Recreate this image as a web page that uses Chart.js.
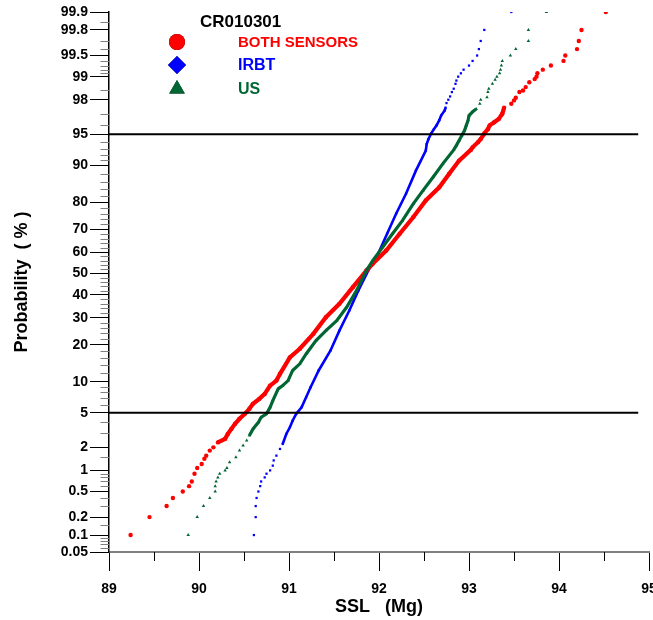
<!DOCTYPE html>
<html>
<head>
<meta charset="utf-8">
<script src="https://cdn.jsdelivr.net/npm/chart.js@4.4.1/dist/chart.umd.min.js"></script>
<style>
html,body{margin:0;padding:0;background:#ffffff;}
canvas{display:block;}
</style>
</head>
<body>
<canvas id="c" width="653" height="620"></canvas>
<script>
// ---------------- DATA ----------------
const chartTitle = 'CR010301';
const seriesNames = ['BOTH SENSORS', 'IRBT', 'US'];
const xAxisTitle = 'SSL   (Mg)';
const yAxisTitle = 'Probability  ( % )';

// BOTH SENSORS: cumulative probability (%) and SSL (Mg)
const bothP = [0.1,0.2,0.3,0.4,0.5,0.6,0.7,0.9,1.08,1.22,1.43,1.57,1.82,2.0,2.3,2.54,2.9,3.32,3.78,4.3,4.87,5.5,6.18,6.93,7.75,9.27,10.3,11.8,16.1,18.7,23.8,30.3,36.0,43.6,51.4,54.6,60.7,68.1,74.7,80.6,84.6,88.1,90.9,92.8,93.2,93.97,94.4,95.1,95.6,96.0,96.3,96.6,97.05,97.5,97.76,97.96,98.11,98.4,98.47,98.62,98.81,98.92,99.0,99.1,99.2,99.3,99.4,99.5,99.6,99.7,99.8,99.9];
const bothX = [89.24,89.45,89.64,89.71,89.82,89.89,89.92,89.95,89.98,90.03,90.06,90.08,90.12,90.16,90.21,90.29,90.32,90.36,90.40,90.45,90.51,90.56,90.60,90.67,90.73,90.79,90.86,90.90,91.01,91.12,91.27,91.41,91.56,91.71,91.86,91.93,92.08,92.23,92.38,92.52,92.67,92.78,92.89,93.02,93.04,93.10,93.13,93.17,93.21,93.23,93.28,93.33,93.37,93.39,93.47,93.50,93.52,93.56,93.60,93.63,93.67,93.73,93.75,93.76,93.82,93.91,94.05,94.07,94.20,94.22,94.25,94.52];

// IRBT
const irbtP = [0.1,0.2,0.3,0.4,0.5,0.6,0.7,0.8,0.9,1.0,1.16,1.36,1.57,1.91,2.2,2.9,3.46,4.1,4.87,5.7,7.2,8.95,12.6,18.1,25.0,33.1,42.0,51.4,59.2,68.1,76.0,82.7,88.8,92.7,93.7,94.4,95.1,95.6,96.0,96.5,96.9,97.3,97.5,97.8,98.0,98.18,98.4,98.55,98.75,98.87,99.0,99.1,99.2,99.3,99.4,99.5,99.6,99.7,99.8,99.9];
const irbtX = [90.61,90.63,90.63,90.64,90.66,90.68,90.69,90.73,90.75,90.79,90.82,90.83,90.86,90.90,90.93,90.97,91.01,91.04,91.08,91.14,91.19,91.24,91.33,91.46,91.56,91.67,91.77,91.88,91.99,92.09,92.19,92.30,92.41,92.52,92.53,92.55,92.58,92.61,92.64,92.67,92.69,92.73,92.74,92.75,92.77,92.79,92.81,92.83,92.85,92.86,92.88,92.91,92.94,93.00,93.04,93.09,93.11,93.13,93.17,93.47];

// US
const usP = [0.1,0.2,0.3,0.4,0.5,0.6,0.7,0.8,0.9,1.0,1.08,1.29,1.5,1.82,2.1,2.42,2.78,3.32,3.94,4.47,4.87,5.7,6.67,8.65,9.27,10.3,12.6,14.3,17.1,21.4,25.0,28.9,34.5,42.0,51.4,56.1,62.2,68.1,73.4,79.5,83.7,87.25,90.3,92.8,93.5,94.2,94.85,95.45,96.0,96.5,96.9,97.2,97.4,97.76,98.0,98.14,98.4,98.55,98.75,98.9,99.0,99.1,99.2,99.3,99.4,99.5,99.6,99.7,99.8,99.9];
const usX = [89.88,89.98,90.05,90.12,90.18,90.18,90.19,90.21,90.23,90.29,90.31,90.34,90.41,90.45,90.49,90.53,90.56,90.60,90.66,90.69,90.75,90.79,90.82,90.88,90.93,90.99,91.04,91.12,91.19,91.30,91.41,91.53,91.64,91.75,91.86,91.93,92.04,92.15,92.26,92.38,92.49,92.60,92.71,92.83,92.86,92.89,92.92,92.95,92.97,92.99,93.00,93.04,93.08,93.12,93.13,93.20,93.21,93.22,93.26,93.29,93.31,93.34,93.35,93.36,93.37,93.46,93.52,93.66,93.66,93.86];

// Axis ticks
const xMin = 89, xMax = 95;
const xMinorTicks = [89.5,90.5,91.5,92.5,93.5,94.5];
const yMin = 0.05, yMax = 99.9;
const yMajorTicks = [0.05,0.1,0.2,0.5,1,2,5,10,20,30,40,50,60,70,80,90,95,98,99,99.5,99.8,99.9];
const yMinorTicks = [0.06,0.07,0.08,0.09,0.15,0.3,0.4,0.6,0.7,0.8,0.9,1.5,3,4,6,7,8,9,12,14,16,18,22,24,26,28,32,34,36,38,42,44,46,48,52,54,56,58,62,64,66,68,72,74,76,78,82,84,86,88,91,92,93,94,96,97,98.5,99.1,99.2,99.3,99.4,99.6,99.7,99.85];

// Reference lines (5 % and 95 %)
const refLineP = [5, 95];
const refLineX = [89, 94.88];

// ---------------- probability scale ----------------
function probit(p){
  const a=[-3.969683028665376e+01,2.209460984245205e+02,-2.759285104469687e+02,1.383577518672690e+02,-3.066479806614716e+01,2.506628277459239e+00];
  const b=[-5.447609879822406e+01,1.615858368580409e+02,-1.556989798598866e+02,6.680131188771972e+01,-1.328068155288572e+01];
  const c=[-7.784894002430293e-03,-3.223964580411365e-01,-2.400758277161838e+00,-2.549732539343734e+00,4.374664141464968e+00,2.938163982698783e+00];
  const d=[7.784695709041462e-03,3.224671290700398e-01,2.445134137142996e+00,3.754408661907416e+00];
  const pl=0.02425, ph=1-pl; let q,r;
  if(p<pl){q=Math.sqrt(-2*Math.log(p));return (((((c[0]*q+c[1])*q+c[2])*q+c[3])*q+c[4])*q+c[5])/((((d[0]*q+d[1])*q+d[2])*q+d[3])*q+1);}
  if(p<=ph){q=p-0.5;r=q*q;return (((((a[0]*r+a[1])*r+a[2])*r+a[3])*r+a[4])*r+a[5])*q/(((((b[0]*r+b[1])*r+b[2])*r+b[3])*r+b[4])*r+1);}
  q=Math.sqrt(-2*Math.log(1-p));return -(((((c[0]*q+c[1])*q+c[2])*q+c[3])*q+c[4])*q+c[5])/((((d[0]*q+d[1])*q+d[2])*q+d[3])*q+1);
}
function normCdf(z){
  const t=1/(1+0.2316419*Math.abs(z));
  const y=0.3989423*Math.exp(-z*z/2)*t*(0.3193815+t*(-0.3565638+t*(1.781478+t*(-1.821256+t*1.330274))));
  return z>0?1-y:y;
}
class ProbabilityScale extends Chart.Scale {
  determineDataLimits(){ this.min = this.options.min; this.max = this.options.max; }
  buildTicks(){ return yMajorTicks.filter(v => v >= this.min && v <= this.max).map(v => ({value: v})); }
  getLabelForValue(v){ return String(v); }
  configure(){ super.configure(); this._zMin = probit(this.min/100); this._zMax = probit(this.max/100); }
  getPixelForValue(v){
    if (v === null || v === undefined || isNaN(v)) return NaN;
    return this.getPixelForDecimal((probit(v/100) - this._zMin) / (this._zMax - this._zMin));
  }
  getValueForPixel(px){ return 100*normCdf(this._zMin + this.getDecimalForPixel(px)*(this._zMax - this._zMin)); }
}
ProbabilityScale.id = 'probability';
ProbabilityScale.defaults = {};
Chart.register(ProbabilityScale);

// ---------------- chart ----------------
const FONT = 'Liberation Sans, Arial, Helvetica, sans-serif';
const RED = '#ff0000', BLUE = '#0000ff', GREEN = '#006633';

function toPoints(xs, ps){ return xs.map((x, i) => ({x: x, y: ps[i]})); }
function bodySegment(ps, lo, hi, color){
  return ctx => (ps[ctx.p0DataIndex] >= lo && ps[ctx.p1DataIndex] <= hi) ? color : 'rgba(0,0,0,0)';
}

const legendItems = [
  {label: seriesNames[0], color: RED, style: 'circle', r: 8, size: 15},
  {label: seriesNames[1], color: BLUE, style: 'rectRot', r: 9, size: 16},
  {label: seriesNames[2], color: GREEN, style: 'triangle', r: 9, size: 16}
];

const overlayPlugin = {
  id: 'overlay',
  afterDraw(chart){
    const ctx = chart.ctx;
    const xs = chart.scales.x, ys = chart.scales.y;
    ctx.save();
    // minor y ticks
    ctx.strokeStyle = '#808080'; ctx.lineWidth = 1;
    const ax = Math.round(ys.right) + 0.5;
    yMinorTicks.forEach(v => {
      const py = Math.round(ys.getPixelForValue(v)) + 0.5;
      ctx.beginPath(); ctx.moveTo(ax - 9, py); ctx.lineTo(ax, py); ctx.stroke();
    });
    // minor x ticks
    ctx.strokeStyle = '#000000';
    const by = xs.top;
    xMinorTicks.forEach(v => {
      const px = Math.round(xs.getPixelForValue(v)) + 0.5;
      ctx.beginPath(); ctx.moveTo(px, by); ctx.lineTo(px, by + 9); ctx.stroke();
    });
    // legend
    ctx.fillStyle = '#000000';
    ctx.font = 'bold 17px ' + FONT;
    ctx.textBaseline = 'middle'; ctx.textAlign = 'left';
    ctx.fillText(chartTitle, 200, 22);
    const rows = [42, 65, 89];
    legendItems.forEach((it, i) => {
      Chart.helpers.drawPoint(ctx, {pointStyle: it.style, radius: it.r, rotation: 0, borderWidth: 0}, 177, rows[i]);
    });
    legendItems.forEach((it, i) => {
      ctx.fillStyle = it.color; ctx.strokeStyle = it.color;
      ctx.beginPath();
      Chart.helpers.drawPoint(ctx, {pointStyle: it.style, radius: it.r, rotation: 0, borderWidth: 0}, 177, rows[i]);
      ctx.font = 'bold ' + it.size + 'px ' + FONT;
      ctx.fillText(it.label, 238, rows[i] + 1);
    });
    ctx.restore();
  }
};

new Chart(document.getElementById('c'), {
  type: 'scatter',
  data: {
    datasets: [
      {label: 'ref5', data: [{x: refLineX[0], y: refLineP[0]}, {x: refLineX[1], y: refLineP[0]}], showLine: true, borderColor: '#000', borderWidth: 2, pointRadius: 0, order: 0},
      {label: 'ref95', data: [{x: refLineX[0], y: refLineP[1]}, {x: refLineX[1], y: refLineP[1]}], showLine: true, borderColor: '#000', borderWidth: 2, pointRadius: 0, order: 0},
      {label: seriesNames[2], data: toPoints(usX, usP), showLine: true, borderColor: GREEN, borderWidth: 3.2,
        segment: {borderColor: bodySegment(usP, 2.5, 97.5, GREEN)},
        pointStyle: 'triangle', pointRadius: 2, pointBackgroundColor: GREEN, pointBorderWidth: 0, order: 1},
      {label: seriesNames[0], data: toPoints(bothX, bothP), showLine: true, borderColor: RED, borderWidth: 4.2,
        segment: {borderColor: bodySegment(bothP, 2.2, 97.5, RED)},
        pointStyle: 'circle', pointRadius: 2.2, pointBackgroundColor: RED, pointBorderWidth: 0, order: 2},
      {label: seriesNames[1], data: toPoints(irbtX, irbtP), showLine: true, borderColor: BLUE, borderWidth: 2.6,
        segment: {borderColor: bodySegment(irbtP, 2.2, 97.5, BLUE)},
        pointStyle: 'rect', pointRadius: 1.6, pointBackgroundColor: BLUE, pointBorderWidth: 0, order: 3}
    ]
  },
  options: {
    responsive: false,
    animation: false,
    events: [],
    layout: {padding: {top: 12, right: 3, bottom: 0, left: 0}},
    plugins: {legend: {display: false}, tooltip: {enabled: false}},
    scales: {
      x: {
        type: 'linear', min: xMin, max: xMax,
        ticks: {stepSize: 1, color: '#000', font: {family: FONT, size: 14, weight: 'bold'}, padding: 10, maxRotation: 0,
          callback: v => String(v)},
        grid: {drawOnChartArea: false, drawTicks: true, tickLength: 19, tickColor: '#000', tickWidth: 1},
        border: {display: true, color: '#808080', width: 2},
        title: {display: true, text: xAxisTitle, color: '#000', font: {family: FONT, size: 18, weight: 'bold'}, padding: {top: 0, bottom: 2}},
        afterFit: s => { s.height = 68; s.paddingLeft = 0; s.paddingRight = 0; }
      },
      y: {
        type: 'probability', min: yMin, max: yMax, position: 'left',
        ticks: {autoSkip: false, color: '#000', font: {family: FONT, size: 14, weight: 'bold'}, padding: 2},
        grid: {drawOnChartArea: false, drawTicks: true, tickLength: 19, tickColor: '#000', tickWidth: 1},
        border: {display: true, color: '#000', width: 1.5},
        title: {display: true, text: yAxisTitle, color: '#000', font: {family: FONT, size: 18, weight: 'bold'}, padding: {top: 11, bottom: 0}},
        afterFit: s => { s.width = 109; s.paddingTop = 0; s.paddingBottom = 0; }
      }
    }
  },
  plugins: [overlayPlugin]
});
</script>
</body>
</html>
